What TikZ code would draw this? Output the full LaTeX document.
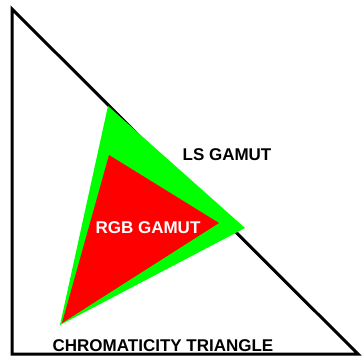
\documentclass[tikz,border=0pt]{standalone}
\usepackage{fontspec}
\setmainfont{Liberation Sans}
\definecolor{gamutgreen}{RGB}{0,255,0}
\definecolor{gamutred}{RGB}{255,0,0}
\begin{document}
\begin{tikzpicture}[x=1pt,y=-1pt,
  lbl/.style={inner sep=0pt,anchor=base,font=\fontsize{17}{17}\selectfont\bfseries}]
\useasboundingbox (0,0) rectangle (364,360);
% chromaticity triangle
\coordinate (T) at (12,9);
\coordinate (BL) at (12,354);
\coordinate (BR) at (358,354);
\draw[line width=3pt,line join=miter] (T) -- (BR) -- (BL) -- cycle;
% LS gamut
\coordinate (g1) at (108,106);
\coordinate (g2) at (245,228);
\coordinate (g3) at (60,325);
\fill[gamutgreen] (g1) -- (g2) -- (g3) -- cycle;
% RGB gamut
\coordinate (r1) at (109,155);
\coordinate (r2) at (219,223);
\coordinate (r3) at (62,323);
\fill[gamutred] (r1) -- (r2) -- (r3) -- cycle;
% labels
\node[lbl] (ls) at (227,160) {LS GAMUT};
\node[lbl,text=white] (rgb) at (148,233) {RGB GAMUT};
\node[lbl] (ct) at (163,351) {CHROMATICITY TRIANGLE};
\end{tikzpicture}
\end{document}
